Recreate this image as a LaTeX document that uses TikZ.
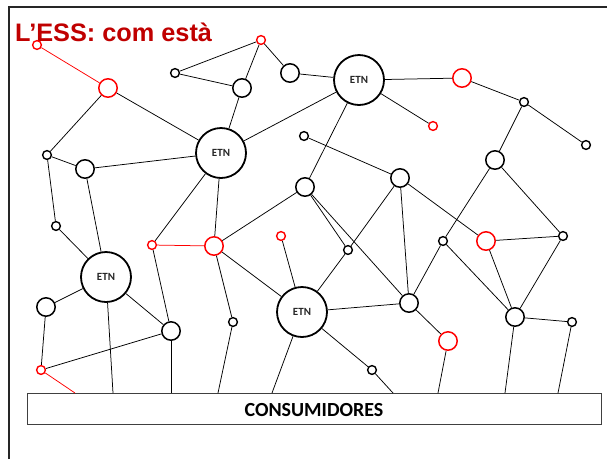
\documentclass[tikz,border=0pt]{standalone}
\usepackage{fontspec}
\setmainfont{Carlito}
\newfontfamily\titlefont{Liberation Sans}
\definecolor{titlered}{RGB}{192,0,0}
\definecolor{pure}{RGB}{255,0,0}
\begin{document}
\begin{tikzpicture}[x=1pt,y=-1pt,
  sm/.style={circle, draw=black, line width=1.4pt, minimum size=8.8pt, inner sep=0pt},
  md/.style={circle, draw=black, line width=1.5pt, minimum size=18.4pt, inner sep=0pt},
  etn/.style={circle, draw=black, line width=1.8pt, minimum size=50pt, inner sep=0pt, font=\bfseries\fontsize{11}{11}\selectfont, text=black!85},
  rd/.style={draw=pure},
  conn/.style={line width=0.75pt, black},
  rconn/.style={line width=0.75pt, pure}
]
\useasboundingbox (0,0) rectangle (607,459);
\fill[white] (0,0) rectangle (607,459);
% frame
\draw[line width=2.4pt, black!85] (9,459) -- (9,7) -- (607,7);
% title
\node[anchor=base west, inner sep=0pt, text=titlered, font=\titlefont\bfseries\fontsize{25.3}{25.3}\selectfont] (title) at (15,41.5) {L’ESS: com està};
% box
\node[draw=black!75, line width=1pt, minimum width=574pt, minimum height=31pt, inner sep=0pt, anchor=north west] (box) at (27,393) {};
\node[anchor=base, inner sep=0pt, font=\bfseries\fontsize{20}{20}\selectfont] (cons) at (314,416.5) {CONSUMIDORES};
% nodes
\node[sm,rd] (R1) at (37,45) {};
\node[md,rd] (R2) at (108,88) {};
\node[sm,rd] (R3) at (261,40) {};
\node[sm] (S1) at (175,73) {};
\node[md] (M1) at (242,88) {};
\node[md] (M2) at (290,73) {};
\node[etn] (E1) at (359,80) {ETN};
\node[md,rd] (R4) at (462,78) {};
\node[sm,rd] (R5) at (433,126) {};
\node[sm] (S2) at (524,102) {};
\node[sm] (S3) at (586,145) {};
\node[md] (M3) at (495,160) {};
\node[sm] (S4) at (304,136) {};
\node[md] (M4) at (400,178) {};
\node[md] (M5) at (305,187) {};
\node[etn] (E2) at (221,153) {ETN};
\node[sm] (S5) at (47,155) {};
\node[md] (M6) at (85,169) {};
\node[sm] (S6) at (56,226) {};
\node[etn] (E3) at (106,277) {ETN};
\node[md] (M7) at (46,307) {};
\node[sm,rd] (R6) at (41,370) {};
\node[md] (M8) at (171,331) {};
\node[sm,rd] (R7) at (152,245) {};
\node[md,rd] (R8) at (214,246) {};
\node[sm,rd] (R9) at (281,236) {};
\node[sm] (S7) at (233,322) {};
\node[etn] (E4) at (302,312) {ETN};
\node[sm] (S8) at (348,250) {};
\node[md] (M9) at (409,303) {};
\node[md,rd] (R10) at (448,341) {};
\node[sm] (S9) at (372,370) {};
\node[sm] (S10) at (443,241) {};
\node[md,rd] (R11) at (486,241) {};
\node[sm] (S11) at (563,236) {};
\node[md] (M10) at (515,317) {};
\node[sm] (S12) at (572,322) {};
% box attachment points
\coordinate (b1) at (75,393);
\coordinate (b2) at (113,393);
\coordinate (b3) at (171,393);
\coordinate (b4) at (218,393);
\coordinate (b5) at (272,393);
\coordinate (b6) at (393,393);
\coordinate (b7) at (438,393);
\coordinate (b8) at (505,393);
\coordinate (b9) at (558,393);
% red connectors
\draw[rconn] (R1) -- (R2);
\draw[rconn] (R7) -- (R8);
\draw[rconn] (R6) -- (b1);
% black connectors
\draw[conn] (R2) -- (E2);
\draw[conn] (R2) -- (S5);
\draw[conn] (S1) -- (R3);
\draw[conn] (S1) -- (M1);
\draw[conn] (R3) -- (M1);
\draw[conn] (R3) -- (M2);
\draw[conn] (M1) -- (E2);
\draw[conn] (M2) -- (E1);
\draw[conn] (E2) -- (E1);
\draw[conn] (S5) -- (M6);
\draw[conn] (M6) -- (E2);
\draw[conn] (S5) -- (S6);
\draw[conn] (M6) -- (E3);
\draw[conn] (S6) -- (E3);
\draw[conn] (E2) -- (R7);
\draw[conn] (E2) -- (R8);
\draw[conn] (R8) -- (M5);
\draw[conn] (E1) -- (M5);
\draw[conn] (S4) -- (M4);
\draw[conn] (E1) -- (R4);
\draw[conn] (E1) -- (R5);
\draw[conn] (R4) -- (S2);
\draw[conn] (S2) -- (S3);
\draw[conn] (S2) -- (M3);
\draw[conn] (M5) -- (S8);
\draw[conn] (M5) -- (M9);
\draw[conn] (M4) -- (M9);
\draw[conn] (M4) -- (R11);
\draw[conn] (M4) -- (S8);
\draw[conn] (S8) -- (E4);
\draw[conn] (E4) -- (M9);
\draw[conn] (E4) -- (S9);
\draw[conn] (S9) -- (b6);
\draw[conn] (M9) -- (R10);
\draw[conn] (R10) -- (b7);
\draw[conn] (M9) -- (S10);
\draw[conn] (S10) -- (M3);
\draw[conn] (S10) -- (M10);
\draw[conn] (R11) -- (S11);
\draw[conn] (R11) -- (M10);
\draw[conn] (M3) -- (S11);
\draw[conn] (S11) -- (M10);
\draw[conn] (M10) -- (S12);
\draw[conn] (M10) -- (b8);
\draw[conn] (S12) -- (b9);
\draw[conn] (R8) -- (E4);
\draw[conn] (R9) -- (E4);
\draw[conn] (E4) -- (b5);
\draw[conn] (R8) -- (S7);
\draw[conn] (S7) -- (b4);
\draw[conn] (R7) -- (M8);
\draw[conn] (E3) -- (M8);
\draw[conn] (M8) -- (R6);
\draw[conn] (M7) -- (E3);
\draw[conn] (M7) -- (R6);
\draw[conn] (E3) -- (b2);
\draw[conn] (M8) -- (b3);
\end{tikzpicture}
\end{document}
